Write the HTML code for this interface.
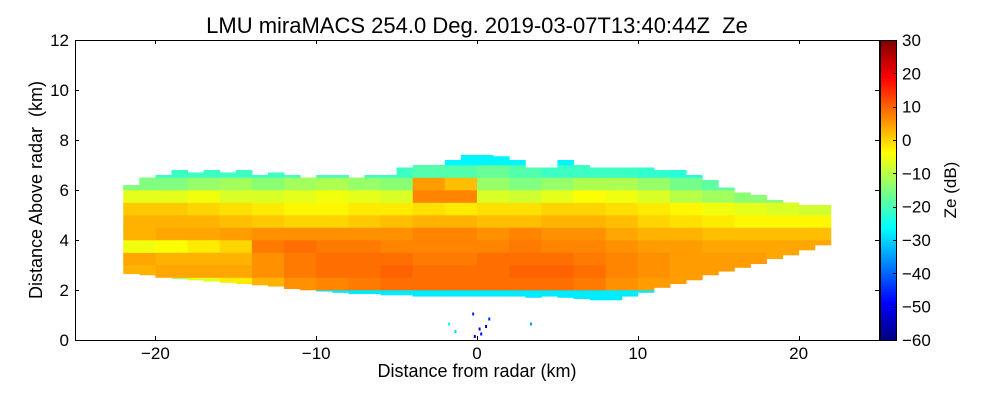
<!DOCTYPE html>
<html><head><meta charset="utf-8"><style>
body{margin:0;background:#fff;}
svg text{font-family:"Liberation Sans",sans-serif;fill:#000;white-space:pre;}
</style></head><body>
<svg id="c" width="1000" height="400" viewBox="0 0 1000 400" xmlns="http://www.w3.org/2000/svg" xml:space="preserve">
<text x="477" y="33" font-size="22" text-anchor="middle">LMU miraMACS 254.0 Deg. 2019-03-07T13:40:44Z  Ze</text>
<g id="cells"></g>
<g id="clutter"></g>
<rect x="75.5" y="40.5" width="804" height="300" fill="none" stroke="#000" stroke-width="1"/>
<g id="axes"></g>
<text x="477" y="377" font-size="18" text-anchor="middle">Distance from radar (km)</text>
<text transform="translate(42,190) rotate(-90)" font-size="18" text-anchor="middle">Distance Above radar  (km)</text>
<g id="cbar"></g>
<text transform="translate(956,190) rotate(-90)" font-size="17" text-anchor="middle">Ze (dB)</text>
</svg>
<script>
const xTicks=[-20,-10,0,10,20];
const yTicks=[0,2,4,6,8,10,12];
const cbTicks=[30,20,10,0,-10,-20,-30,-40,-50,-60];
const colCenters=[-21,-19,-17,-15,-13,-11,-9,-7,-5,-3,-1,1,3,5,7,9,11,13,15,17,19,21];
const rowBottoms=[1.5,2,2.5,3,3.5,4,4.5,5,5.5,6,6.5,7];
const echoBase=[2.65,2.6,2.5,2.45,2.4,2.35,2.3,2.25,2.2,2.15,2.05,2.0,1.95,1.9,1.85,1.85,1.8,1.8,1.75,1.75,1.75,1.75,1.75,1.75,1.75,1.7,1.75,1.7,1.65,1.6,1.6,1.75,1.9,2.1,2.25,2.4,2.6,2.75,2.9,3.05,3.25,3.4,3.6,3.8];
const echoTop=[6.2,6.5,6.6,6.8,6.7,6.8,6.7,6.8,6.6,6.7,6.6,6.5,6.6,6.6,6.5,6.6,6.6,6.9,7.0,7.0,7.2,7.4,7.4,7.35,7.2,6.9,6.9,7.2,7.0,6.9,6.9,6.9,6.9,6.8,6.8,6.6,6.4,6.1,5.9,5.8,5.6,5.5,5.4,5.4];
const ze0=[-28,-28,-28,-28,-28,-28,-28,-28,-28,-28,-28,-28,-28,-28,-28,-28,-28,-28,-28,-28,-28,-28];
const ze1=[-18,-12,-6,-2,3,6,7,8,9,9,9,9,9,9,8,6,5,5,5,-5,-5,-5];
const ze2=[3,4,4,4,6,8,9,9,10,9,9,9,10,10,9,7,6,5,5,5,5,5];
const ze3=[4,3,3,3,6,8,9,9,9,8,8,9,9,9,8,7,6,5,5,5,4,4];
const ze4=[-5,-4,-2,0,8,9,8,8,7,7,7,7,8,7,7,6,5,5,4,4,4,4];
const ze5=[3,4,4,5,6,6,6,6,6,7,7,6,7,6,6,4,3,3,2,2,2,2];
const ze6=[3,3,3,2,1,0,0,1,2,3,3,2,2,3,3,2,0,-1,-2,-3,-3,-3];
const ze7=[1,1,0,-1,-2,-3,-3,-2,-2,-1,-2,-1,-1,0,0,-1,-2,-3,-5,-6,-7,-8];
const ze8=[-6,-6,-5,-7,-7,-6,-5,-6,-7,7,7,-7,-8,-6,-4,-5,-7,-10,-12,-14,-14,-14];
const ze9=[-15,-15,-13,-12,-14,-12,-11,-13,-14,5,2,-13,-15,-13,-11,-11,-13,-16,-18,-20,-20,-20];
const ze10=[-21,-21,-21,-21,-21,-20,-20,-21,-21,-19,-19,-17,-19,-21,-21,-21,-22,-23,-24,-24,-24,-24];
const ze11=[-27,-27,-27,-27,-27,-27,-27,-27,-27,-27,-27,-27,-27,-27,-27,-27,-27,-27,-27,-27,-27,-27];
const zeRows=[ze0,ze1,ze2,ze3,ze4,ze5,ze6,ze7,ze8,ze9,ze10,ze11];
const clutterX=[-1.8,-1.4,-0.3,0.1,0.2,0.5,0.7,3.3,-0.2];
const clutterY=[0.7,0.4,1.1,0.5,0.3,0.6,0.9,0.7,0.2];
const clutterZe=[-25,-30,-45,-50,-48,-52,-45,-35,-50];

const NS="http://www.w3.org/2000/svg";
const X0=75,X1=879,Y0=340,Y1=40;
const sx=v=>X0+(v+25)/50*(X1-X0);
const sy=v=>Y0-v/12*(Y0-Y1);
const ZMIN=-60,ZMAX=30;
const cy=v=>Y0-(v-ZMIN)/(ZMAX-ZMIN)*(Y0-Y1);
function jet(z){let t=Math.max(0,Math.min(1,(z-ZMIN)/(ZMAX-ZMIN)));
 const f=v=>Math.round(255*Math.max(0,Math.min(1,v)));
 return `rgb(${f(1.5-Math.abs(4*t-3))},${f(1.5-Math.abs(4*t-2))},${f(1.5-Math.abs(4*t-1))})`;}
function mk(tag,at,parent){const e=document.createElementNS(NS,tag);for(const k in at)e.setAttribute(k,at[k]);parent.appendChild(e);return e;}

const cells=document.getElementById('cells');
for(let k=0;k<echoBase.length;k++){
 const xa=-22+k, xb=xa+1;
 const ci=Math.min(colCenters.length-1,Math.floor(k/2));
 for(let r=0;r<rowBottoms.length;r++){
  const lo=Math.max(rowBottoms[r],echoBase[k]), hi=Math.min(rowBottoms[r]+0.5,echoTop[k]);
  if(hi<=lo)continue;
  const e=mk('rect',{x:sx(xa),y:sy(hi),width:sx(xb)-sx(xa)+0.5,height:sy(lo)-sy(hi)+0.3,fill:jet(zeRows[r][ci])},cells);
  
  
 }
}
const cl=document.getElementById('clutter');
for(let i=0;i<clutterX.length;i++){
 const e=mk('rect',{x:sx(clutterX[i]),y:sy(clutterY[i]),width:2,height:3,fill:jet(clutterZe[i])},cl);
 
 
}
const ax=document.getElementById('axes');
xTicks.forEach(v=>{
 const x=Math.round(sx(v))+0.5;
 mk('line',{x1:x,x2:x,y1:Y0,y2:Y0-4,stroke:'#000'},ax);
 mk('line',{x1:x,x2:x,y1:Y1,y2:Y1+4,stroke:'#000'},ax);
 const t=mk('text',{x:sx(v),y:359,'font-size':17,'text-anchor':'middle'},ax);
 t.textContent=v<0?'\u2212'+(-v):String(v);
 
 
});
yTicks.forEach(v=>{
 const y=Math.round(sy(v))+0.5;
 mk('line',{x1:X0,x2:X0+4,y1:y,y2:y,stroke:'#000'},ax);
 mk('line',{x1:X1,x2:X1-4,y1:y,y2:y,stroke:'#000'},ax);
 const t=mk('text',{x:69,y:sy(v)+6,'font-size':17,'text-anchor':'end'},ax);
 t.textContent=String(v);
 
 
});
const cb=document.getElementById('cbar');
for(let z=ZMIN;z<ZMAX;z+=0.5){
 mk('rect',{x:880,y:cy(z+0.5),width:17,height:cy(z)-cy(z+0.5)+0.4,fill:jet(z+0.25)},cb);
}
mk('rect',{x:880.5,y:40.5,width:16,height:300,fill:'none',stroke:'#000'},cb);
cbTicks.forEach(v=>{
 const y=Math.round(cy(v))+0.5;
 mk('line',{x1:893,x2:897,y1:y,y2:y,stroke:'#000'},cb);
 const t=mk('text',{x:902,y:cy(v)+6,'font-size':17},cb);
 t.textContent=v<0?'\u2212'+(-v):String(v);
 
 
});
</script>
</body></html>
